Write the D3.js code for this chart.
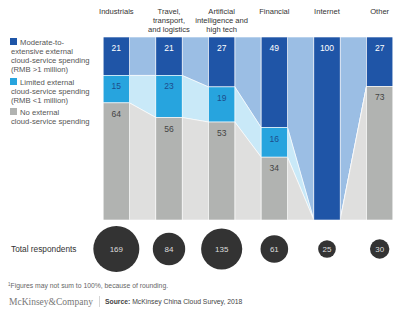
<!DOCTYPE html>
<html>
<head>
<meta charset="utf-8">
<script src="https://cdn.jsdelivr.net/npm/d3@7"></script>
<style>
	body { margin: 0; background: white; font-family: "Liberation Sans", Arial, sans-serif; }
	svg text { font-family: "Liberation Sans", Arial, sans-serif; }
</style>
</head>
<body>
<svg id="chart" width="411" height="324"></svg>
<script>
	// data
	var sectors = [ ["Industrials"], ["Travel,", "transport,", "and logistics"],
		["Artificial", "intelligence and", "high tech"], ["Financial"], ["Internet"], ["Other"] ];
	var extensive = [ 21, 21, 27, 49, 100, 27 ];
	var limited   = [ 15, 23, 19, 16, 0, 0 ];
	var noSpend   = [ 64, 56, 53, 34, 0, 73 ];
	var respondents = [ 169, 84, 135, 61, 25, 30 ];
	var legendLabels = [
		["Moderate-to-", "extensive external", "cloud-service spending", "(RMB >1 million)"],
		["Limited external", "cloud-service spending", "(RMB <1 million)"],
		["No external", "cloud-service spending"] ];

	var barColors  = [ "#1f55a7", "#27a4de", "#b1b3b1" ];
	var bandColors = [ "#9bbee4", "#c9e9f8", "#dfdfde" ];
	var labelColors = [ "#ffffff", "#1d4d8c", "#444444" ];

	var svg = d3.select( "#chart" );

	var x = d3.scaleBand()
		.domain( d3.range( sectors.length ) )
		.range( [ 90, 406 ] )
		.paddingInner( 0.5 )
		.paddingOuter( 0.25 );
	var y = d3.scaleLinear().domain( [ 0, 100 ] ).range( [ 37, 220 ] );
	var r = d3.scaleSqrt().domain( [ 0, 169 ] ).range( [ 0, 23 ] );

	// stacked segments, normalised so each column reaches the bottom
	var stacks = sectors.map( function( s, i ) {
		var vals = [ extensive[i], limited[i], noSpend[i] ];
		var tot = d3.sum( vals ), acc = 0;
		return vals.map( function( v, k ) {
			var y0 = acc; acc += v;
			return { k: k, v: v, y0: y0 * 100 / tot, y1: acc * 100 / tot };
		} );
	} );

	// connecting bands between neighbouring bars
	var bands = svg.append( "g" );
	for( var i = 0; i < sectors.length - 1; i++ ) {
		var xa = x( i ) + x.bandwidth(), xb = x( i + 1 );
		stacks[i].forEach( function( a, k ) {
			var b = stacks[i + 1][k];
			bands.append( "path" )
				.attr( "d", "M" + xa + "," + y( a.y0 ) + "L" + xb + "," + y( b.y0 ) +
					"L" + xb + "," + y( b.y1 ) + "L" + xa + "," + y( a.y1 ) + "Z" )
				.attr( "fill", bandColors[k] )
				.attr( "stroke", "#ffffff" )
				.attr( "stroke-width", 0.6 );
		} );
	}

	// bars
	var cols = svg.selectAll( "g.col" )
		.data( stacks ).enter().append( "g" )
			.attr( "transform", ( d, i ) => "translate(" + x( i ) + ",0)" );

	cols.selectAll( "rect" )
		.data( d => d.filter( s => s.v > 0 ) ).enter().append( "rect" )
			.attr( "y", d => y( d.y0 ) )
			.attr( "width", x.bandwidth() )
			.attr( "height", d => y( d.y1 ) - y( d.y0 ) )
			.attr( "fill", d => barColors[d.k] )
			.attr( "stroke", "#ffffff" )
			.attr( "stroke-width", 0.6 );

	cols.selectAll( "text" )
		.data( d => d.filter( s => s.v > 0 ) ).enter().append( "text" )
			.attr( "x", x.bandwidth() / 2 )
			.attr( "y", d => y( d.y0 ) + 14 )
			.attr( "text-anchor", "middle" )
			.attr( "font-size", "8.5px" )
			.attr( "fill", d => labelColors[d.k] )
			.text( d => d.v );

	// column headers
	svg.selectAll( "text.head" )
		.data( sectors ).enter().append( "text" )
			.attr( "class", "head" )
			.attr( "x", ( d, i ) => x( i ) + x.bandwidth() / 2 )
			.attr( "y", 14 )
			.attr( "text-anchor", "middle" )
			.attr( "font-size", "7.6px" )
			.attr( "fill", "#333333" )
			.each( function( d ) {
				var t = d3.select( this ), cx = t.attr( "x" );
				d.forEach( ( line, j ) => t.append( "tspan" ).attr( "x", cx ).attr( "dy", j ? 9 : 0 ).text( line ) );
			} );

	// legend
	var legY = [ 38, 78, 108 ];
	legendLabels.forEach( function( lines, k ) {
		svg.append( "rect" )
			.attr( "x", 10 ).attr( "y", legY[k] )
			.attr( "width", 7 ).attr( "height", 7 )
			.attr( "fill", barColors[k] );
		var t = svg.append( "text" )
			.attr( "x", 11 ).attr( "y", legY[k] + 6.5 )
			.attr( "font-size", "7.7px" )
			.attr( "fill", "#555555" );
		lines.forEach( ( line, j ) => t.append( "tspan" )
			.attr( "x", j ? 11 : 20 ).attr( "dy", j ? 9 : 0 ).text( line ) );
	} );

	// respondents bubbles
	svg.append( "text" )
		.attr( "x", 11 ).attr( "y", 252 )
		.attr( "font-size", "8.3px" )
		.attr( "fill", "#333333" )
		.text( "Total respondents" );

	svg.selectAll( "circle" )
		.data( respondents ).enter().append( "circle" )
			.attr( "cx", ( d, i ) => x( i ) + x.bandwidth() / 2 )
			.attr( "cy", 249 )
			.attr( "r", d => r( d ) )
			.attr( "fill", "#333333" );

	svg.selectAll( "text.resp" )
		.data( respondents ).enter().append( "text" )
			.attr( "class", "resp" )
			.attr( "x", ( d, i ) => x( i ) + x.bandwidth() / 2 )
			.attr( "y", 252 )
			.attr( "text-anchor", "middle" )
			.attr( "font-size", "8px" )
			.attr( "fill", "#dddddd" )
			.text( d => d );

	// footnote and source
	svg.append( "text" )
		.attr( "x", 8 ).attr( "y", 288 )
		.attr( "font-size", "6.8px" )
		.attr( "fill", "#666666" )
		.html( "<tspan font-size='4.5px' dy='-2'>1</tspan><tspan dy='2'>Figures may not sum to 100%, because of rounding.</tspan>" );

	svg.append( "text" )
		.attr( "x", 9 ).attr( "y", 305 )
		.style( "font-family", "'Liberation Serif', serif" )
		.attr( "font-size", "9.5px" )
		.attr( "fill", "#777777" )
		.text( "McKinsey&Company" );

	svg.append( "line" )
		.attr( "x1", 99.5 ).attr( "x2", 99.5 )
		.attr( "y1", 296 ).attr( "y2", 307 )
		.attr( "stroke", "#bbbbbb" ).attr( "stroke-width", 0.6 );

	svg.append( "text" )
		.attr( "x", 105 ).attr( "y", 304 )
		.attr( "font-size", "6.8px" )
		.attr( "fill", "#444444" )
		.html( "<tspan font-weight='bold'>Source:</tspan> McKinsey China Cloud Survey, 2018" );
</script>
</body>
</html>
